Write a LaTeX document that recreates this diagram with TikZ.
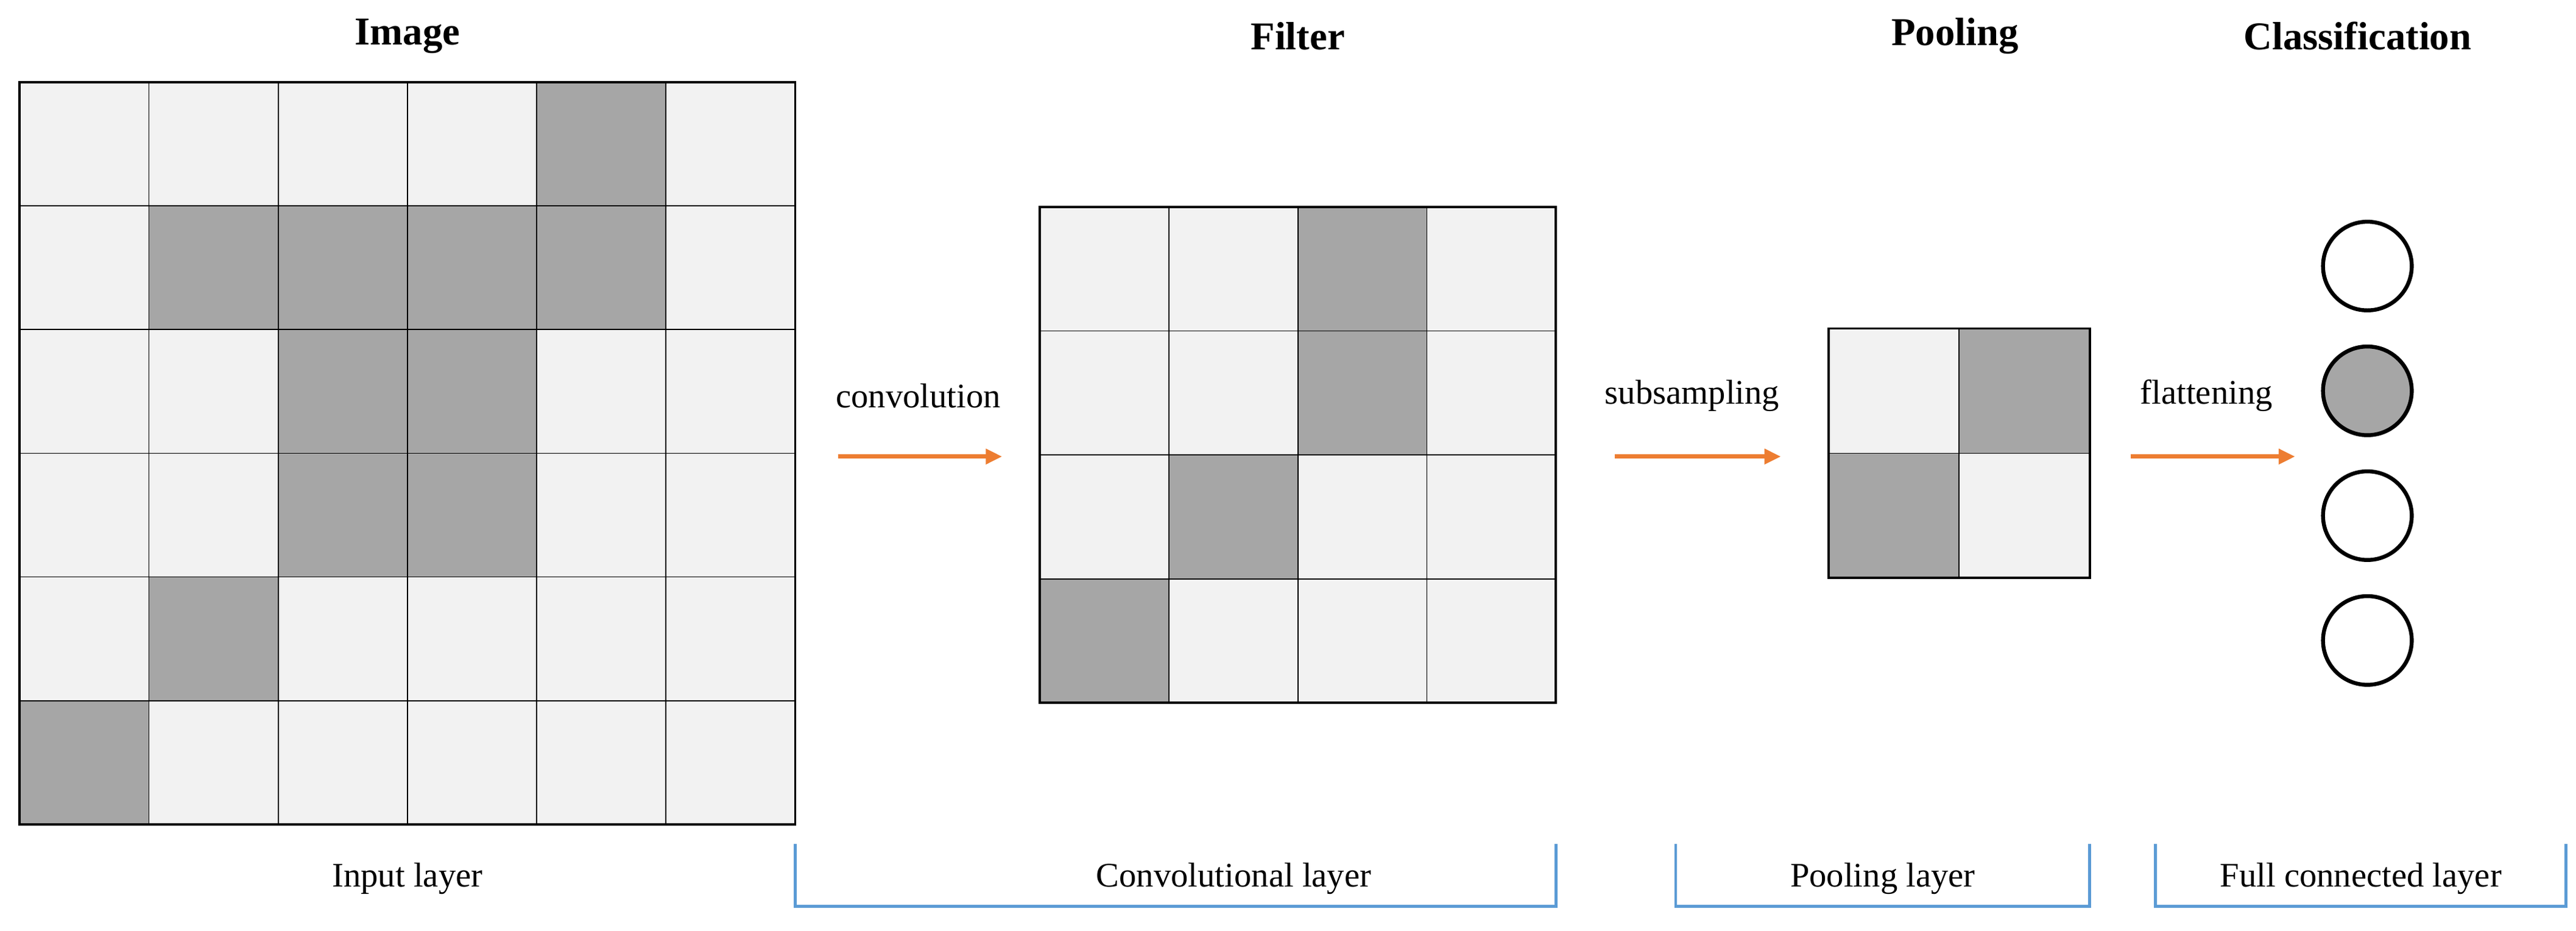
\documentclass[tikz,border=0pt]{standalone}
\usepackage{fontspec}
\setmainfont{Liberation Serif}
\usetikzlibrary{arrows.meta,positioning}
\definecolor{cellgray}{RGB}{166,166,166}
\definecolor{celllight}{RGB}{242,242,242}
\definecolor{arroworange}{RGB}{237,125,49}
\definecolor{bracketblue}{RGB}{91,155,213}
\begin{document}
\begin{tikzpicture}[x=1pt,y=-1pt,
		% Styles
		title/.style={font=\fontsize{24}{28}\selectfont\bfseries},
		label/.style={font=\fontsize{21}{25}\selectfont},
		flow/.style={-{Triangle[length=10pt,width=9pt]}, line width=2.6pt, arroworange},
		bracket/.style={line width=1.8pt, bracketblue},
		neuron/.style={circle, draw=black, line width=2.4pt, minimum size=54pt, inner sep=0pt},
		]

		\useasboundingbox (0,0) rectangle (1568,566.6);

		% Input image 6x6
		\foreach \r in {0,...,5}
			\foreach \c in {0,...,5}
				\filldraw[fill=celllight, draw=black, line width=0.6pt] (12+78.67*\c,50+75.33*\r) rectangle ++(78.67,75.33);
		\foreach \r/\c in {0/4,1/1,1/2,1/3,1/4,2/2,2/3,3/2,3/3,4/1,5/0}
			\filldraw[fill=cellgray, draw=black, line width=0.6pt] (12+78.67*\c,50+75.33*\r) rectangle ++(78.67,75.33);
		\draw[line width=1.4pt] (12,50) rectangle (484,502);

		% Filter 4x4
		\foreach \r in {0,...,3}
			\foreach \c in {0,...,3}
				\filldraw[fill=celllight, draw=black, line width=0.6pt] (633+78.5*\c,126+75.5*\r) rectangle ++(78.5,75.5);
		\foreach \r/\c in {0/2,1/2,2/1,3/0}
			\filldraw[fill=cellgray, draw=black, line width=0.6pt] (633+78.5*\c,126+75.5*\r) rectangle ++(78.5,75.5);
		\draw[line width=1.4pt] (633,126) rectangle (947,428);

		% Pooling 2x2
		\foreach \r in {0,1}
			\foreach \c in {0,1}
				\filldraw[fill=celllight, draw=black, line width=0.6pt] (1113+79.5*\c,200+76*\r) rectangle ++(79.5,76);
		\foreach \r/\c in {0/1,1/0}
			\filldraw[fill=cellgray, draw=black, line width=0.6pt] (1113+79.5*\c,200+76*\r) rectangle ++(79.5,76);
		\draw[line width=1.4pt] (1113,200) rectangle (1272,352);

		% Neurons
		\node[neuron] (n1) at (1441,162) {};
		\node[neuron, fill=cellgray] (n2) at (1441,238) {};
		\node[neuron] (n3) at (1441,314) {};
		\node[neuron] (n4) at (1441,390) {};

		% Titles
		\node[title] (timage) at (248,22) {Image};
		\node[title] (tfilter) at (790,22) {Filter};
		\node[title] (tpool) at (1190,22) {Pooling};
		\node[title] (tclass) at (1435,22) {Classification};

		% Arrows
		\node[label] (conv) at (559,241) {convolution};
		\coordinate (conva) at (510,278);
		\coordinate (convb) at (610,278);
		\draw[flow] (conva) -- (convb);
		\node[label] (sub) at (1030,241) {subsampling};
		\coordinate (suba) at (983,278);
		\coordinate (subb) at (1084,278);
		\draw[flow] (suba) -- (subb);
		\node[label] (flat) at (1343,241) {flattening};
		\coordinate (flata) at (1297,278);
		\coordinate (flatb) at (1397,278);
		\draw[flow] (flata) -- (flatb);

		% Layers
		\node[label] (linput) at (248,535) {Input layer};
		\node[label] (lconv) at (751,535) {Convolutional layer};
		\node[label] (lpool) at (1146,535) {Pooling layer};
		\node[label] (lfull) at (1437,535) {Full connected layer};
		\draw[bracket] (484,514) |- (947,552) -- (947,514);
		\draw[bracket] (1020,514) |- (1272,552) -- (1272,514);
		\draw[bracket] (1312,514) |- (1562,552) -- (1562,514);

	\end{tikzpicture}
\end{document}
